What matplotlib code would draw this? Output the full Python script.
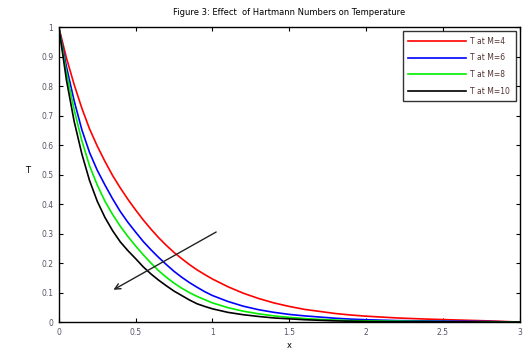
import numpy as np
import matplotlib
matplotlib.use("Agg")
import matplotlib.pyplot as plt

# x positions where the curves were read
x = [0.0, 0.05, 0.1, 0.15, 0.2, 0.25, 0.3, 0.35, 0.4, 0.45, 0.5, 0.55, 0.6, 0.65,
     0.7, 0.75, 0.8, 0.85, 0.9, 0.95, 1.0, 1.1, 1.2, 1.3, 1.4, 1.5, 1.6, 1.7, 1.8,
     1.9, 2.0, 2.2, 2.4, 2.6, 2.8, 3.0]

# temperature for each Hartmann number
T_m4 = [1.0, 0.895, 0.805, 0.725, 0.655, 0.597, 0.545, 0.497, 0.455, 0.416, 0.38,
        0.346, 0.315, 0.286, 0.26, 0.236, 0.215, 0.195, 0.177, 0.161, 0.146, 0.12,
        0.098, 0.08, 0.065, 0.053, 0.043, 0.036, 0.029, 0.024, 0.02, 0.014, 0.01,
        0.007, 0.004, 0.0]
T_m6 = [1.0, 0.865, 0.75, 0.652, 0.575, 0.515, 0.465, 0.418, 0.375, 0.338, 0.305,
        0.273, 0.245, 0.219, 0.195, 0.172, 0.152, 0.134, 0.118, 0.103, 0.09, 0.07,
        0.054, 0.042, 0.033, 0.026, 0.021, 0.017, 0.013, 0.010, 0.008, 0.005, 0.004,
        0.003, 0.002, 0.0]
T_m8 = [1.0, 0.845, 0.72, 0.615, 0.53, 0.465, 0.41, 0.365, 0.325, 0.29, 0.258,
        0.228, 0.2, 0.174, 0.152, 0.132, 0.115, 0.1, 0.087, 0.076, 0.065, 0.049,
        0.037, 0.028, 0.021, 0.016, 0.012, 0.009, 0.007, 0.005, 0.004, 0.003, 0.002,
        0.001, 0.001, 0.0]
T_m10 = [1.0, 0.82, 0.68, 0.57, 0.48, 0.41, 0.355, 0.31, 0.272, 0.242, 0.215,
         0.187, 0.163, 0.142, 0.123, 0.105, 0.09, 0.075, 0.062, 0.053, 0.045, 0.033,
         0.025, 0.019, 0.014, 0.011, 0.008, 0.006, 0.004, 0.003, 0.002, 0.001, 0.001,
         0.001, 0.0, 0.0]

labels = ["T at M=4", "T at M=6", "T at M=8", "T at M=10"]
colors = ["#ff0000", "#0000ff", "#00ee00", "#000000"]

fig = plt.figure(figsize=(5.25, 3.52), dpi=100)
ax = fig.add_axes([0.112, 0.085, 0.878, 0.838])

for series, lab, col in zip([T_m4, T_m6, T_m8, T_m10], labels, colors):
    ax.plot(x, series, color=col, linewidth=1.2, label=lab)

# arrow showing increasing M
ax.annotate("", xy=(0.34, 0.105), xytext=(1.04, 0.31),
            arrowprops=dict(arrowstyle="->", color="#222222", lw=1.0))

ax.set_xlim(0, 3)
ax.set_ylim(0, 1)
ax.set_xticks([0, 0.5, 1, 1.5, 2, 2.5, 3])
ax.set_xticklabels(["0", "0.5", "1", "1.5", "2", "2.5", "3"])
ax.set_yticks(np.arange(0, 1.01, 0.1))
ax.set_yticklabels(["0", "0.1", "0.2", "0.3", "0.4", "0.5", "0.6", "0.7", "0.8", "0.9", "1"])
ax.tick_params(direction="in", top=True, right=True, length=3, width=0.8,
               labelsize=5.5, labelcolor="#555566", pad=4)
for s in ax.spines.values():
    s.set_linewidth(1.0)

ax.set_title("Figure 3: Effect  of Hartmann Numbers on Temperature", fontsize=6, pad=9)
ax.set_xlabel("x", fontsize=6, labelpad=3)
ax.set_ylabel("T", fontsize=6, rotation=0, labelpad=10)

leg = ax.legend(loc="upper right", fontsize=5.5, frameon=True, fancybox=False,
                edgecolor="black", handlelength=7.5, borderaxespad=0.5,
                labelspacing=1.0, borderpad=0.75, handletextpad=0.6)
leg.get_frame().set_linewidth(1.0)
for t in leg.get_texts():
    t.set_color("#553333")

fig.savefig("out.png", dpi=100)
